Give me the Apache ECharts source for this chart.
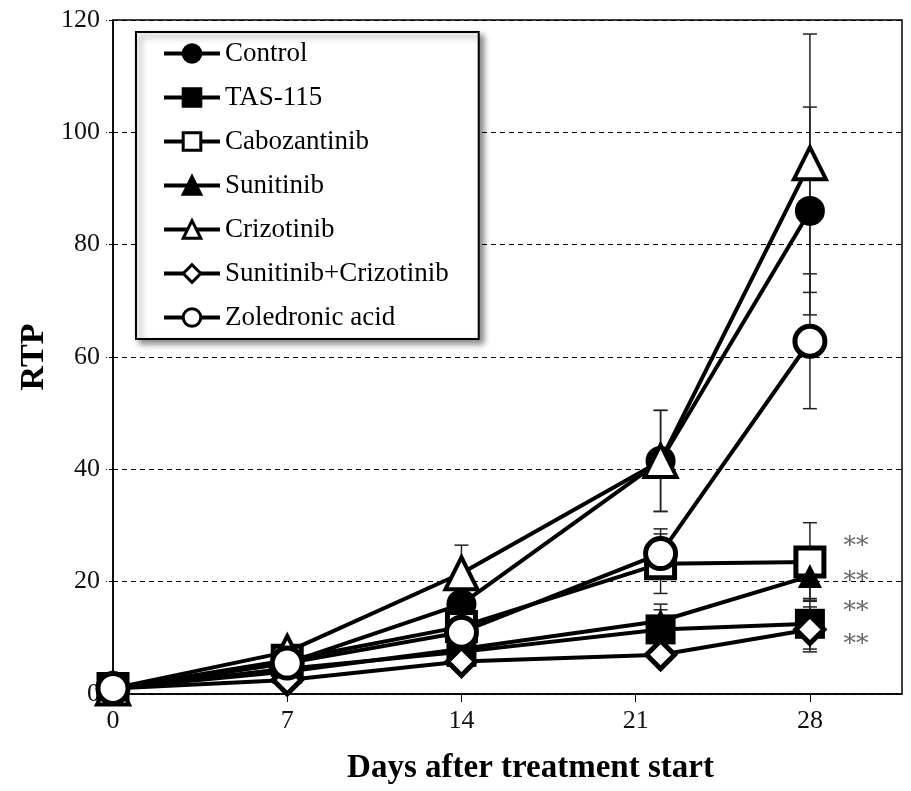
<!DOCTYPE html>
<html>
<head>
<meta charset="utf-8">
<script src="https://cdn.jsdelivr.net/npm/echarts@6/dist/echarts.min.js"></script>
<style>
html,body{margin:0;padding:0;background:#fff;}
#chart{width:911px;height:791px;}
</style>
</head>
<body>
<div id="chart"></div>
<script>
// ---- data ----
const days = [0, 7, 14, 22, 28];
const xTicks = [0, 7, 14, 21, 28];

const control        = [1, 5.5, 16, 41.5, 86];
const controlErr     = [0, 1, 2, 9, 18.5];
const tas115         = [1, 4.5, 7.5, 11.5, 12.5];
const tas115Err      = [0, 0.8, 1.5, 4.5, 4.5];
const cabozantinib   = [1, 6, 12, 23.2, 23.5];
const cabozantinibErr= [0, 1, 2, 5.3, 7];
const sunitinib      = [1, 4, 8, 13, 21];
const sunitinibErr   = [0, 0.8, 1.5, 2, 4.3];
const crizotinib     = [1, 7.5, 21.5, 41.5, 94.5];
const crizotinibErr  = [0, 1.2, 5, 9, 23];
const sunCriz        = [1, 2.5, 5.8, 7, 11.5];
const sunCrizErr     = [0, 0.5, 1, 1.5, 4];
const zoledronic     = [1, 5.5, 11, 25, 62.8];
const zoledronicErr  = [0, 1, 2, 4.4, 12];

const seriesNames = ['Control', 'TAS-115', 'Cabozantinib', 'Sunitinib', 'Crizotinib', 'Sunitinib+Crizotinib', 'Zoledronic acid'];
const sigX = [29.85, 29.85, 29.85, 29.85];
const sigY = [26.2, 20.1, 14.6, 8.9];
const sigText = ['**', '**', '**', '**'];

// ---- build ----
const FONT = 'Liberation Serif';
const values = [control, tas115, cabozantinib, sunitinib, crizotinib, sunCriz, zoledronic];
const errs = [controlErr, tas115Err, cabozantinibErr, sunitinibErr, crizotinibErr, sunCrizErr, zoledronicErr];
const styles = [
  {symbol: 'circle', size: 30, fill: '#000', bw: 0},
  {symbol: 'rect', size: 30, fill: '#000', bw: 0},
  {symbol: 'rect', size: 28, fill: '#fff', bw: 5},
  {symbol: 'triangle', size: 24, fill: '#000', bw: 0},
  {symbol: 'triangle', size: 32, fill: '#fff', bw: 4},
  {symbol: 'diamond', size: 28, fill: '#fff', bw: 5},
  {symbol: 'circle', size: 30, fill: '#fff', bw: 5}
];

function renderErr(params, api) {
  const x = api.value(0), lo = api.value(1), hi = api.value(2);
  const pLo = api.coord([x, lo]), pHi = api.coord([x, hi]);
  const w = 7;
  const st = {stroke: '#222', lineWidth: 1.5};
  return {type: 'group', children: [
    {type: 'line', shape: {x1: pLo[0], y1: pLo[1], x2: pHi[0], y2: pHi[1]}, style: st},
    {type: 'line', shape: {x1: pHi[0] - w, y1: pHi[1], x2: pHi[0] + w, y2: pHi[1]}, style: st},
    {type: 'line', shape: {x1: pLo[0] - w, y1: pLo[1], x2: pLo[0] + w, y2: pLo[1]}, style: st}
  ]};
}

const series = [];
values.forEach((v, k) => {
  const errData = [];
  days.forEach((d, i) => { if (errs[k][i] > 0) errData.push([d, v[i] - errs[k][i], v[i] + errs[k][i]]); });
  series.push({
    type: 'custom', name: seriesNames[k] + ' err', renderItem: renderErr,
    data: errData, encode: {x: 0, y: [1, 2]}, z: 1, silent: true
  });
});
values.forEach((v, k) => {
  const s = styles[k];
  series.push({
    type: 'line', name: seriesNames[k],
    data: days.map((d, i) => [d, v[i]]),
    symbol: s.symbol, symbolSize: s.size, showAllSymbol: true, clip: false,
    lineStyle: {color: '#000', width: 4},
    itemStyle: {color: s.fill, borderColor: '#000', borderWidth: s.bw},
    z: 2, animation: false
  });
});
series.push({
  type: 'scatter', name: 'sig',
  data: sigX.map((x, i) => ({value: [x, sigY[i]], label: {formatter: sigText[i]}})),
  symbolSize: 1, itemStyle: {color: 'rgba(0,0,0,0)'},
  label: {show: true, position: 'inside', fontFamily: 'DejaVu Serif', fontSize: 25, color: '#444'},
  z: 3, silent: true
});

const chart = echarts.init(document.getElementById('chart'), null, {renderer: 'canvas'});
chart.setOption({
  animation: false,
  backgroundColor: '#fff',
  grid: {left: 113, right: 9, top: 20, bottom: 97, show: true, borderColor: '#000', borderWidth: 1.5, backgroundColor: 'transparent'},
  legend: {
    data: seriesNames,
    orient: 'vertical', left: 136, top: 32,
    padding: [8, 30, 8, 26],
    itemWidth: 56, itemHeight: 22, itemGap: 17,
    backgroundColor: '#fff', borderColor: '#000', borderWidth: 2,
    shadowColor: 'rgba(0,0,0,0.45)', shadowBlur: 6, shadowOffsetX: 4, shadowOffsetY: 4,
    lineStyle: {width: 4, color: '#000'},
    itemStyle: {borderWidth: 3, borderColor: '#000'},
    textStyle: {fontFamily: FONT, fontSize: 27, lineHeight: 27, color: '#000'}
  },
  xAxis: {
    type: 'value', min: 0, max: 31.7, interval: 7,
    name: 'Days after treatment start', nameLocation: 'middle', nameGap: 58,
    nameTextStyle: {fontFamily: FONT, fontSize: 33, fontWeight: 'bold', color: '#000', padding: [0, 0, 0, 46]},
    axisLine: {show: true, lineStyle: {color: '#000', width: 1.5}},
    axisTick: {show: true, inside: false, length: 8, lineStyle: {color: '#000'}, customValues: xTicks},
    axisLabel: {fontFamily: FONT, fontSize: 26, color: '#111', margin: 14, customValues: xTicks},
    splitLine: {show: false}
  },
  yAxis: {
    type: 'value', min: 0, max: 120, interval: 20,
    name: 'RTP', nameLocation: 'middle', nameGap: 62, nameRotate: 90, nameMoveOverlap: false,
    nameTextStyle: {fontFamily: FONT, fontSize: 34, fontWeight: 'bold', color: '#000', padding: [14, 0, 0, 0]},
    axisLine: {show: true, lineStyle: {color: '#000', width: 1.5}},
    axisTick: {show: true, inside: false, length: 7, lineStyle: {color: '#000', type: 'dashed'}},
    axisLabel: {fontFamily: FONT, fontSize: 26, color: '#111', margin: 13},
    splitLine: {show: true, lineStyle: {color: '#000', width: 1, type: [5, 4]}}
  },
  series: series
});
</script>
</body>
</html>
